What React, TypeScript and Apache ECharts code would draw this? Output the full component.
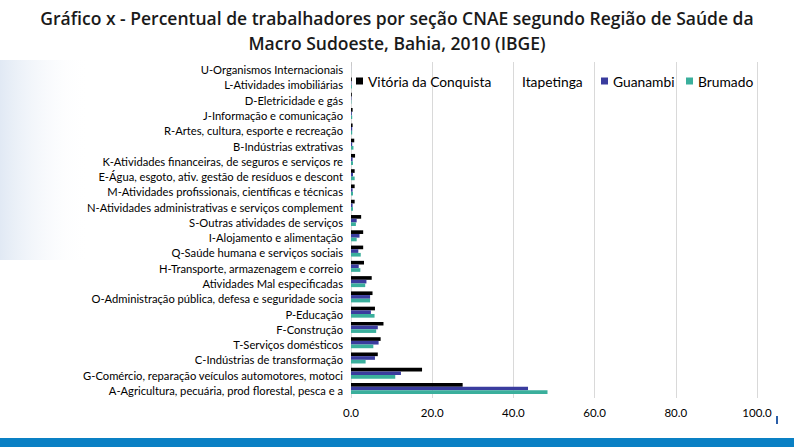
import React, { useEffect, useRef } from "react";
import * as echarts from "echarts";

const categories = [
  "U-Organismos Internacionais",
  "L-Atividades imobiliárias",
  "D-Eletricidade e gás",
  "J-Informação e comunicação",
  "R-Artes, cultura, esporte e recreação",
  "B-Indústrias extrativas",
  "K-Atividades financeiras, de seguros e serviços re",
  "E-Água, esgoto, ativ. gestão de resíduos e descont",
  "M-Atividades profissionais, científicas e técnicas",
  "N-Atividades administrativas e serviços complement",
  "S-Outras atividades de serviços",
  "I-Alojamento e alimentação",
  "Q-Saúde humana e serviços sociais",
  "H-Transporte, armazenagem e correio",
  "Atividades Mal especificadas",
  "O-Administração pública, defesa e seguridade socia",
  "P-Educação",
  "F-Construção",
  "T-Serviços domésticos",
  "C-Indústrias de transformação",
  "G-Comércio, reparação veículos automotores, motoci",
  "A-Agricultura, pecuária, prod florestal, pesca e a",
];

const vitoriaDaConquista = [0.02, 0.2, 0.2, 0.4, 0.4, 0.8, 1.0, 0.9, 0.9, 0.9, 2.5, 3.0, 3.0, 3.2, 5.1, 5.3, 5.9, 8.0, 7.3, 6.6, 17.5, 27.5];
const itapetinga: number[] = [];
const guanambi = [0.02, 0.1, 0.1, 0.2, 0.3, 0.3, 0.4, 0.5, 0.4, 0.4, 1.4, 2.1, 1.8, 1.9, 3.8, 4.7, 4.9, 6.6, 6.8, 5.9, 12.3, 43.6];
const brumado = [0.02, 0.2, 0.1, 0.3, 0.3, 0.6, 0.5, 0.9, 0.5, 0.5, 1.2, 1.4, 2.4, 2.3, 3.5, 4.7, 5.8, 6.2, 5.5, 3.6, 10.9, 48.4];

const seriesNames = ["Vitória da Conquista", "Itapetinga", "Guanambi", "Brumado"];
const xTicks = [0, 20, 40, 60, 80, 100];

const FONT = "Lato, 'Open Sans', sans-serif";

export default function App() {
  const ref = useRef<HTMLDivElement>(null);
  useEffect(() => {
    if (!ref.current) return;
    const chart = echarts.init(ref.current, null, { renderer: "svg" });
    const legendText = { color: "#000", fontSize: 13.8, fontFamily: FONT };
    const legendBase = { top: 74, padding: 0, itemWidth: 7, itemHeight: 7, itemGap: 4, textStyle: legendText };
    chart.setOption({
      animation: false,
      backgroundColor: "#ffffff",
      textStyle: { fontFamily: FONT },
      title: {
        text: "Gráfico x - Percentual de trabalhadores por seção CNAE segundo Região de Saúde da\nMacro Sudoeste, Bahia, 2010 (IBGE)",
        left: "center",
        top: 1,
        textStyle: { fontSize: 17.5, fontWeight: 600, color: "#1a1a1a", fontFamily: "'Open Sans', sans-serif", lineHeight: 24.5 },
      },
      graphic: [
        {
          type: "rect",
          shape: { x: 0, y: 60, width: 90, height: 200 },
          style: {
            fill: new echarts.graphic.LinearGradient(0, 0, 1, 0, [
              { offset: 0, color: "rgba(200,215,235,0.55)" },
              { offset: 1, color: "rgba(255,255,255,0)" },
            ]),
          },
          z: -10,
        },
        {
          type: "rect",
          shape: { x: 0, y: 438, width: 794, height: 9 },
          style: { fill: "#0a80c4" },
        },
        {
          type: "rect",
          shape: { x: 776, y: 416, width: 2, height: 8 },
          style: { fill: "#2b5fa8" },
        },
      ],
      legend: [
        { ...legendBase, data: [{ name: seriesNames[0] }], left: 356, icon: "rect" },
        { ...legendBase, data: [{ name: seriesNames[1], icon: "none" }], left: 510 },
        { ...legendBase, data: [{ name: seriesNames[2] }], left: 601, icon: "rect" },
        { ...legendBase, data: [{ name: seriesNames[3] }], left: 686, icon: "rect" },
      ],
      grid: { left: 351, right: 37, top: 62, bottom: 49, containLabel: false },
      xAxis: {
        type: "value",
        min: xTicks[0],
        max: xTicks[xTicks.length - 1],
        interval: 20,
        axisLine: { show: false },
        axisTick: { show: false },
        splitLine: { show: true, lineStyle: { color: "#d9d9d9", width: 1 } },
        axisLabel: {
          color: "#000",
          fontSize: 11.5,
          margin: 8,
          fontFamily: FONT,
          formatter: (v: number) => v.toFixed(1),
        },
      },
      yAxis: {
        type: "category",
        data: categories,
        inverse: true,
        axisLine: { show: false },
        axisTick: { show: false },
        axisLabel: { color: "#000", fontSize: 11.2, margin: 8, fontFamily: FONT },
      },
      series: [
        { name: seriesNames[0], type: "bar", data: vitoriaDaConquista, itemStyle: { color: "#000000" }, barGap: "0%", barCategoryGap: "4%" },
        { name: seriesNames[2], type: "bar", data: guanambi, itemStyle: { color: "#3a3c9e" } },
        { name: seriesNames[3], type: "bar", data: brumado, itemStyle: { color: "#3aaf9c" } },
        { name: seriesNames[1], type: "bar", data: itapetinga, itemStyle: { color: "#ffffff" } },
      ],
    });
    return () => chart.dispose();
  }, []);
  return <div ref={ref} style={{ position: "fixed", left: 0, top: 0, width: 794, height: 447 }} />;
}
